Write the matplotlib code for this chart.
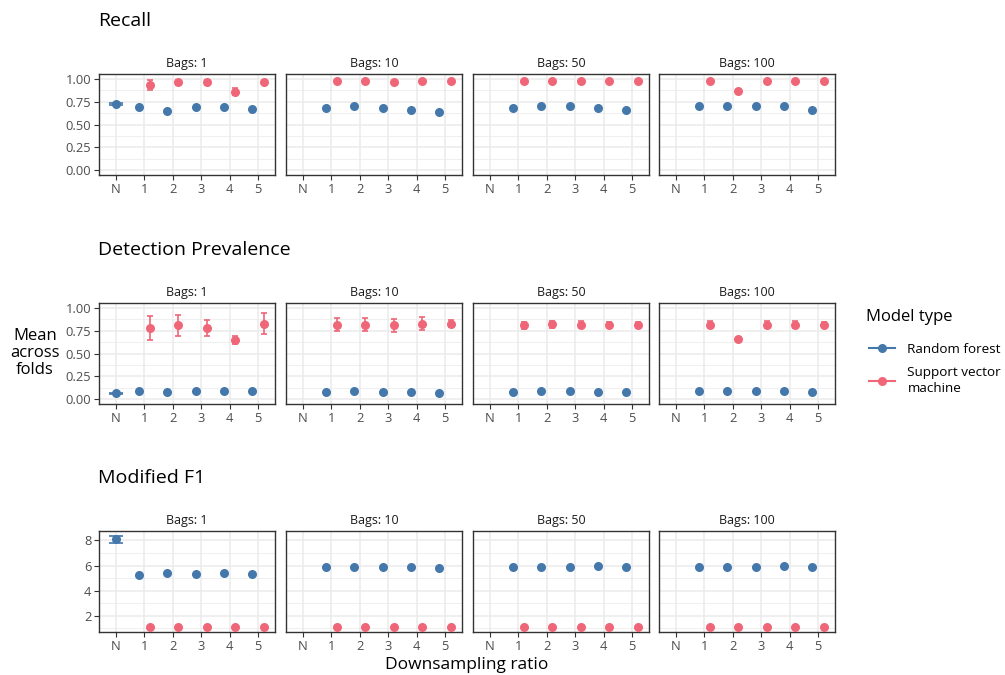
import numpy as np
import matplotlib.pyplot as plt
from matplotlib.lines import Line2D

plt.rcParams['font.family'] = ['Open Sans', 'DejaVu Sans']

nan = np.nan

categories = ["N", "1", "2", "3", "4", "5"]
bags = [1, 10, 50, 100]
metrics = ["Recall", "Detection Prevalence", "Modified F1"]
model_names = ["Random forest", "Support vector\nmachine"]

# one row per bag count (1, 10, 50, 100), one column per downsampling ratio
rf_recall = [[0.725, 0.692, 0.652, 0.689, 0.696, 0.674],
             [nan, 0.681, 0.707, 0.681, 0.656, 0.634],
             [nan, 0.681, 0.707, 0.707, 0.681, 0.656],
             [nan, 0.707, 0.707, 0.707, 0.707, 0.656]]
rf_recall_err = [[0.012, 0.006, 0.006, 0.006, 0.006, 0.006],
                 [nan, 0.005, 0.005, 0.005, 0.005, 0.005],
                 [nan, 0.005, 0.005, 0.005, 0.005, 0.005],
                 [nan, 0.005, 0.005, 0.005, 0.005, 0.005]]
svm_recall = [[nan, 0.934, 0.963, 0.963, 0.861, 0.963],
              [nan, 0.974, 0.974, 0.970, 0.976, 0.980],
              [nan, 0.978, 0.978, 0.978, 0.978, 0.978],
              [nan, 0.978, 0.864, 0.978, 0.978, 0.978]]
svm_recall_err = [[nan, 0.05, 0.025, 0.025, 0.035, 0.02],
                  [nan, 0.01, 0.01, 0.01, 0.01, 0.01],
                  [nan, 0.01, 0.01, 0.01, 0.01, 0.01],
                  [nan, 0.01, 0.012, 0.01, 0.01, 0.01]]

rf_prev = [[0.062, 0.091, 0.080, 0.091, 0.091, 0.087],
           [nan, 0.080, 0.087, 0.080, 0.073, 0.065],
           [nan, 0.080, 0.087, 0.087, 0.080, 0.073],
           [nan, 0.084, 0.084, 0.084, 0.084, 0.073]]
rf_prev_err = [[0.008, 0.005, 0.005, 0.005, 0.005, 0.005],
               [nan, 0.004, 0.004, 0.004, 0.004, 0.004],
               [nan, 0.004, 0.004, 0.004, 0.004, 0.004],
               [nan, 0.004, 0.004, 0.004, 0.004, 0.004]]
svm_prev = [[nan, 0.778, 0.811, 0.782, 0.651, 0.825],
            [nan, 0.818, 0.815, 0.811, 0.829, 0.829],
            [nan, 0.811, 0.822, 0.815, 0.815, 0.815],
            [nan, 0.815, 0.655, 0.818, 0.818, 0.818]]
svm_prev_err = [[nan, 0.13, 0.115, 0.085, 0.045, 0.115],
                [nan, 0.07, 0.07, 0.07, 0.075, 0.035],
                [nan, 0.04, 0.04, 0.04, 0.035, 0.03],
                [nan, 0.04, 0.01, 0.04, 0.035, 0.03]]

rf_f1 = [[8.08, 5.25, 5.39, 5.31, 5.39, 5.36],
         [nan, 5.87, 5.85, 5.85, 5.85, 5.84],
         [nan, 5.92, 5.92, 5.92, 5.94, 5.92],
         [nan, 5.92, 5.92, 5.92, 5.94, 5.92]]
rf_f1_err = [[0.28, 0.08, 0.12, 0.08, 0.08, 0.08],
             [nan, 0.05, 0.05, 0.05, 0.05, 0.05],
             [nan, 0.05, 0.05, 0.05, 0.05, 0.05],
             [nan, 0.05, 0.05, 0.05, 0.05, 0.05]]
svm_f1 = [[nan, 1.09, 1.09, 1.12, 1.09, 1.09],
          [nan, 1.12, 1.12, 1.12, 1.12, 1.12],
          [nan, 1.12, 1.12, 1.12, 1.12, 1.12],
          [nan, 1.12, 1.09, 1.12, 1.12, 1.12]]
svm_f1_err = [[nan, 0.03, 0.03, 0.03, 0.03, 0.03],
              [nan, 0.03, 0.03, 0.03, 0.03, 0.03],
              [nan, 0.03, 0.03, 0.03, 0.03, 0.03],
              [nan, 0.03, 0.03, 0.03, 0.03, 0.03]]

rf_col = "#4477AA"
svm_col = "#EE6677"

W, H = 1005, 675
fig = plt.figure(figsize=(W / 100, H / 100), dpi=100)

col_left = [99, 286, 473, 659]
panel_w = 176
row_top = [74, 303, 531]
panel_h = 101

rows = [
    (rf_recall, rf_recall_err, svm_recall, svm_recall_err, (-0.055, 1.055),
     [0, 0.25, 0.5, 0.75, 1.0], ["0.00", "0.25", "0.50", "0.75", "1.00"], [0.125, 0.375, 0.625, 0.875]),
    (rf_prev, rf_prev_err, svm_prev, svm_prev_err, (-0.055, 1.055),
     [0, 0.25, 0.5, 0.75, 1.0], ["0.00", "0.25", "0.50", "0.75", "1.00"], [0.125, 0.375, 0.625, 0.875]),
    (rf_f1, rf_f1_err, svm_f1, svm_f1_err, (0.72, 8.74),
     [2, 4, 6, 8], ["2", "4", "6", "8"], [1, 3, 5, 7]),
]

x = np.arange(len(categories))

for r, (rf, rf_e, svm, svm_e, ylim, yt, ytl, yminor) in enumerate(rows):
    fig.text(98 / W, 1 - (row_top[r] - 53) / H, metrics[r], fontsize=14,
             ha="left", va="center", color="black")
    for c, b in enumerate(bags):
        ax = fig.add_axes([col_left[c] / W, 1 - (row_top[r] + panel_h) / H,
                           panel_w / W, panel_h / H])
        ax.set_xlim(-0.6, 5.6)
        ax.set_ylim(*ylim)
        for gx in x:
            ax.axvline(gx, color="#EBEBEB", lw=1.1, zorder=0)
        for gy in yt:
            ax.axhline(gy, color="#EBEBEB", lw=1.1, zorder=0)
        for gy in yminor:
            ax.axhline(gy, color="#EBEBEB", lw=0.55, zorder=0)

        rf_vals = np.array(rf[c])
        svm_vals = np.array(svm[c])
        # ratio N has only the random forest, so it sits centred
        rf_x = np.where(x == 0, 0.0, x - 0.2)
        svm_x = x + 0.2
        for i in range(len(categories)):
            if not np.isnan(rf_vals[i]):
                cap = 5.1 if i == 0 else 2.5
                ax.errorbar(rf_x[i], rf_vals[i], yerr=rf_e[c][i], fmt="none",
                            ecolor=rf_col, elinewidth=1.2, capsize=cap, capthick=1.2, zorder=2)
            if not np.isnan(svm_vals[i]):
                ax.errorbar(svm_x[i], svm_vals[i], yerr=svm_e[c][i], fmt="none",
                            ecolor=svm_col, elinewidth=1.2, capsize=2.5, capthick=1.2, zorder=2)
        ax.plot(rf_x, rf_vals, "o", color=rf_col, ms=6.5, mew=0, zorder=3)
        ax.plot(svm_x, svm_vals, "o", color=svm_col, ms=6.5, mew=0, zorder=3)

        ax.set_xticks(x)
        ax.set_xticklabels(categories)
        ax.set_yticks(yt)
        if c == 0:
            ax.set_yticklabels(ytl)
        else:
            ax.tick_params(axis="y", left=False, labelleft=False)
        ax.tick_params(axis="both", length=3.5, width=0.8, color="#333333",
                       labelsize=9.3, labelcolor="#4D4D4D", pad=2)
        for s in ax.spines.values():
            s.set_color("#333333")
            s.set_linewidth(1.0)
        ax.set_title(f"Bags: {b}", fontsize=9, pad=5, color="#1A1A1A")

fig.text(35 / W, 1 - 353 / H, "Mean\nacross\nfolds", fontsize=12,
         ha="center", va="center", linespacing=1.05)
fig.text(467 / W, 1 - 665 / H, "Downsampling ratio", fontsize=12.5,
         ha="center", va="center")

fig.text(866 / W, 1 - 317 / H, "Model type", fontsize=12, ha="left", va="center")
handles = [Line2D([0], [0], color=rf_col, marker="o", lw=1.5, ms=6.5, mew=0),
           Line2D([0], [0], color=svm_col, marker="o", lw=1.5, ms=6.5, mew=0)]
leg = fig.legend(handles, model_names, loc="upper left", bbox_to_anchor=(869 / W, 1 - 343 / H),
                 frameon=False, fontsize=9.7, handlelength=1.9, handletextpad=0.95,
                 labelspacing=0.75, borderpad=0, borderaxespad=0)
for t in leg.get_texts():
    t.set_linespacing(1.25)

fig.savefig("out.png", dpi=100)
